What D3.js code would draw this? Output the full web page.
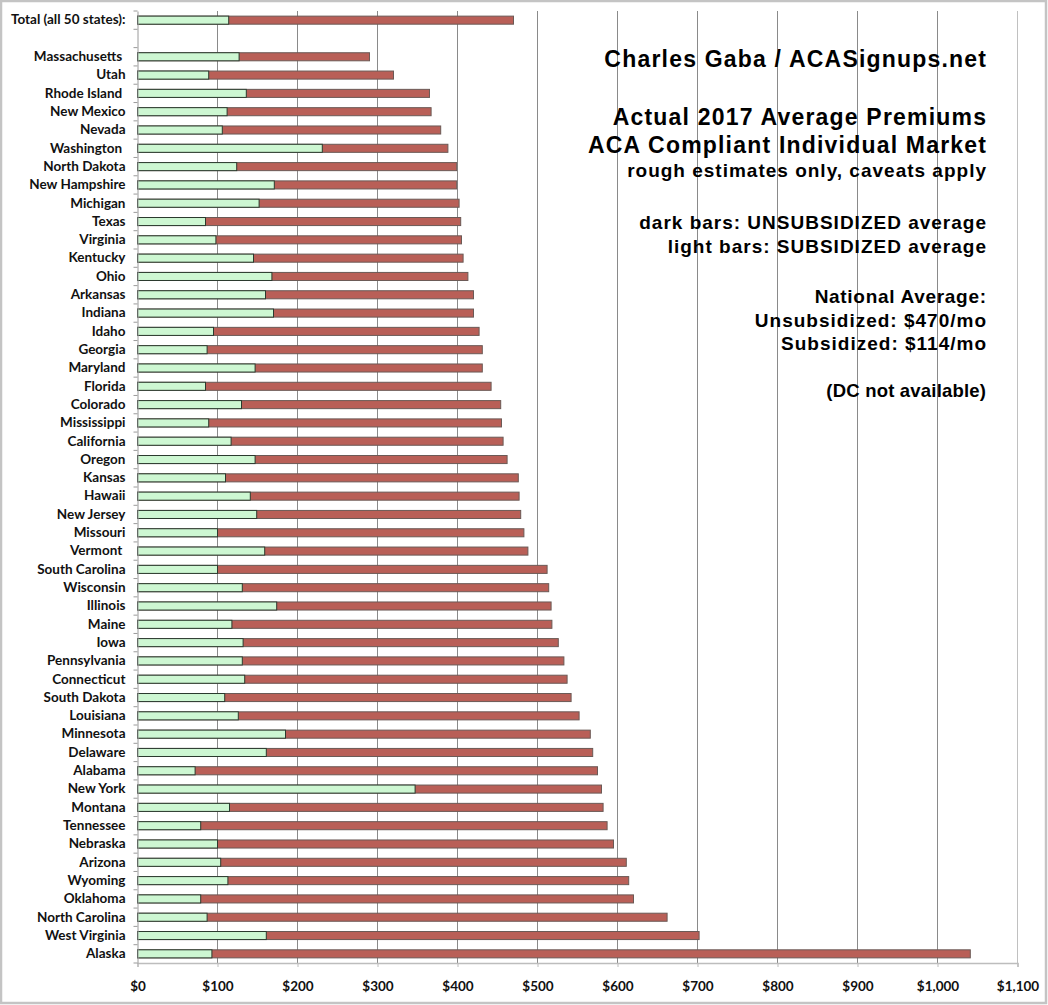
<!doctype html>
<html>
   <head>
      <meta charset="utf-8">
      <title>ACA 2017 Average Premiums</title>
      <style>
         body { margin: 0; background: #fff; }
         .estado text { white-space: pre; }
      </style>
   </head>
   <body>
      <div id="here"></div>
      <script src="https://d3js.org/d3.v7.min.js"></script>
      <script>
         var w = 1048, h = 1005;
         var izq = 137.5, der = 1017.5, arriba = 11, abajo = 963;
         var fuente = "Lato, 'Open Sans', sans-serif";

         // categorias (una fila vacia entre el total y los estados)
         var estados = ["Total (all 50 states):", " ", "Massachusetts ", "Utah", "Rhode Island ", "New Mexico", "Nevada",
            "Washington ", "North Dakota", "New Hampshire", "Michigan", "Texas", "Virginia", "Kentucky", "Ohio",
            "Arkansas", "Indiana", "Idaho", "Georgia", "Maryland", "Florida", "Colorado", "Mississippi",
            "California", "Oregon", "Kansas", "Hawaii", "New Jersey", "Missouri", "Vermont ", "South Carolina",
            "Wisconsin", "Illinois", "Maine", "Iowa", "Pennsylvania", "Connecticut", "South Dakota", "Louisiana",
            "Minnesota", "Delaware", "Alabama", "New York", "Montana", "Tennessee", "Nebraska", "Arizona",
            "Wyoming", "Oklahoma", "North Carolina", "West Virginia", "Alaska"];

         // promedio sin subsidio (barras oscuras)
         var sinSubsidio = [470, null, 290, 320, 365, 367, 379, 388, 399, 399, 402, 404, 405, 407, 413,
            420, 420, 427, 431, 431, 442, 454, 455, 457, 462, 476, 477, 479, 483, 488, 512,
            514, 517, 518, 526, 533, 537, 542, 552, 566, 569, 575, 580, 582, 587, 595, 611,
            614, 620, 662, 702, 1041];

         // promedio con subsidio (barras claras)
         var conSubsidio = [114, null, 127, 89, 136, 112, 106, 231, 124, 171, 152, 85, 98, 145, 168,
            160, 170, 95, 87, 147, 85, 130, 89, 117, 147, 110, 141, 149, 100, 159, 100,
            131, 174, 118, 132, 131, 134, 109, 126, 185, 161, 72, 347, 115, 79, 100, 104,
            113, 79, 87, 161, 93];

         var ticksX = d3.range(0, 1101, 100);

         var notas = [
            { t: "Charles Gaba / ACASignups.net", y: 67, s: 23, e: 1.2 },
            { t: "Actual 2017 Average Premiums", y: 124.5, s: 23, e: 1.2 },
            { t: "ACA Compliant Individual Market", y: 152.5, s: 23, e: 1.2 },
            { t: "rough estimates only, caveats apply", y: 177, s: 19, e: 1 },
            { t: "dark bars: UNSUBSIDIZED average", y: 229, s: 19, e: 1 },
            { t: "light bars: SUBSIDIZED average", y: 253, s: 19, e: 1 },
            { t: "National Average:", y: 303, s: 19, e: 0.7 },
            { t: "Unsubsidized: $470/mo", y: 326.5, s: 19, e: 1 },
            { t: "Subsidized: $114/mo", y: 350, s: 19, e: 1 },
            { t: "(DC not available)", y: 397, s: 18.5, e: 0.2 }
         ];

         var viz = d3.select("#here")
           .append("svg")
           .attr("width", w)
           .attr("height", h)
           .style("display", "block");

         // marco exterior
         viz.append("rect")
           .attr("x", 1).attr("y", 1)
           .attr("width", w - 3).attr("height", h - 3)
           .attr("fill", "#fff")
           .attr("stroke", "#c4c4c4")
           .attr("stroke-width", 2.5);

         var x = d3.scaleLinear().domain([0, 1100]).range([izq, der]);
         var y = d3.scaleBand().domain(estados).range([arriba, abajo]).paddingInner(0.56).paddingOuter(0.28);
         var paso = y.step();

         // lineas verticales de la grilla
         viz.append("g").selectAll("line")
           .data(ticksX.slice(1))
           .enter()
           .append("line")
           .attr("x1", function(d) { return x(d); })
           .attr("x2", function(d) { return x(d); })
           .attr("y1", arriba)
           .attr("y2", abajo)
           .attr("stroke", function(d) { return d == 1100 ? "#c0c0c0" : "#8a8a8a"; })
           .attr("stroke-width", 1);

         // eje inferior
         var ejeX = viz.append("g")
           .attr("transform", "translate(0," + abajo + ")")
           .call(d3.axisBottom(x).tickValues(ticksX).tickSize(4).tickPadding(14).tickFormat(d3.format("$,.0f")));
         ejeX.select(".domain").attr("stroke", "#bdbdbd").attr("stroke-width", 1.5);
         ejeX.selectAll(".tick line").attr("stroke", "#bdbdbd");
         ejeX.selectAll("text")
           .attr("fill", "#111")
           .attr("font-family", fuente)
           .attr("font-weight", "bold")
           .attr("font-size", "13.5");

         var fila = viz.selectAll("g.fila")
           .data(estados)
           .enter()
           .append("g")
           .attr("class", "fila")
           .attr("transform", function(d) { return "translate(0," + y(d) + ")"; });

         fila.filter(function(d, i) { return sinSubsidio[i] != null; })
           .append("rect")
           .attr("x", x(0))
           .attr("width", function(d) { return x(sinSubsidio[estados.indexOf(d)]) - x(0); })
           .attr("height", y.bandwidth())
           .attr("fill", "#b95f57")
           .attr("stroke", "#6b5a56")
           .attr("stroke-width", 1);

         fila.filter(function(d, i) { return conSubsidio[i] != null; })
           .append("rect")
           .attr("x", x(0))
           .attr("width", function(d) { return x(conSubsidio[estados.indexOf(d)]) - x(0); })
           .attr("height", y.bandwidth())
           .attr("fill", "#cdf7d2")
           .attr("stroke", "#2b3a2e")
           .attr("stroke-width", 1);

         // eje vertical con marcas entre categorias
         var ejeY = viz.append("g").attr("class", "estado")
           .attr("transform", "translate(" + izq + ",0)")
           .call(d3.axisLeft(y).tickSize(0).tickPadding(12));
         ejeY.select(".domain").attr("stroke", "#9a9a9a").attr("stroke-width", 1);
         ejeY.selectAll("text")
           .attr("fill", "#111")
           .attr("font-family", fuente)
           .attr("font-weight", "bold")
           .attr("font-size", "13.5");

         viz.append("g").selectAll("line")
           .data(estados)
           .enter()
           .append("line")
           .attr("x1", izq - 4)
           .attr("x2", izq)
           .attr("y1", function(d) { return y(d) - paso * 0.28; })
           .attr("y2", function(d) { return y(d) - paso * 0.28; })
           .attr("stroke", "#9a9a9a");
         viz.append("line")
           .attr("x1", izq - 4).attr("x2", izq)
           .attr("y1", abajo).attr("y2", abajo)
           .attr("stroke", "#9a9a9a");

         // textos de la derecha
         viz.append("g").selectAll("text")
           .data(notas)
           .enter()
           .append("text")
           .attr("x", function(d) { return 986 + d.e; })
           .attr("y", function(d) { return d.y; })
           .attr("text-anchor", "end")
           .attr("font-family", "'Liberation Sans', Arial, sans-serif")
           .attr("font-weight", "bold")
           .attr("font-size", function(d) { return d.s; })
           .attr("letter-spacing", function(d) { return d.e; })
           .attr("fill", "#000")
           .text(function(d) { return d.t; });
      </script>
   </body>
</html>
